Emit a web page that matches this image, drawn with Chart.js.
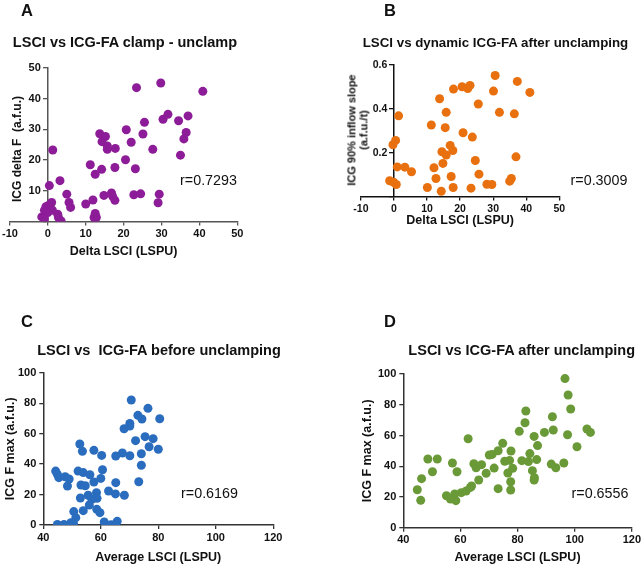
<!DOCTYPE html>
<html>
<head>
<meta charset="utf-8">
<script src="https://cdn.jsdelivr.net/npm/chart.js@4.4.1/dist/chart.umd.min.js"></script>
<style>
  html, body { margin: 0; padding: 0; background: #fff; }
  #page { position: relative; width: 643px; height: 566px; overflow: hidden; font-family: "Liberation Sans", Arial, sans-serif; color: #111; }
  #page canvas { position: absolute; left: 0; top: 0; }
  .txt { position: absolute; transform: translate(-50%, -50%); white-space: pre; line-height: 1; }
  .letter { font-weight: bold; font-size: 16.5px; }
  .ttl { font-weight: bold; font-size: 14.5px; }
  .rval { font-size: 14.3px; }
  .ytl { position: absolute; transform: translate(-50%, -50%) rotate(-90deg); white-space: pre; font-weight: bold; text-align: center; }
</style>
</head>
<body>
<div id="page">
  <canvas id="chartA" width="643" height="566"></canvas>
  <canvas id="chartB" width="643" height="566"></canvas>
  <canvas id="chartC" width="643" height="566"></canvas>
  <canvas id="chartD" width="643" height="566"></canvas>

  <div class="txt letter" style="left:27px;top:10px">A</div>
  <div class="txt letter" style="left:390px;top:10px">B</div>
  <div class="txt letter" style="left:27px;top:321px">C</div>
  <div class="txt letter" style="left:390px;top:321px">D</div>

  <div class="txt ttl" style="left:125px;top:42px">LSCI vs ICG-FA clamp - unclamp</div>
  <div class="txt ttl" style="left:495.5px;top:43px;font-size:13.3px">LSCI vs dynamic ICG-FA after unclamping</div>
  <div class="txt ttl" style="left:159px;top:350px">LSCI vs  ICG-FA before unclamping</div>
  <div class="txt ttl" style="left:521.7px;top:350px">LSCI vs ICG-FA after unclamping</div>

  <div class="txt rval" style="left:208.5px;top:180px">r=0.7293</div>
  <div class="txt rval" style="left:599px;top:180px">r=0.3009</div>
  <div class="txt rval" style="left:209.5px;top:493px">r=0.6169</div>
  <div class="txt rval" style="left:600px;top:493px">r=0.6556</div>

  <div class="ytl" style="left:17px;top:149px;font-size:12px">ICG delta F  (a.f.u.)</div>
  <div class="ytl" style="left:357.5px;top:130px;font-size:11px;line-height:11.6px">ICG 90% inflow slope
(a.f.u./t)</div>
</div>

<script>
// A: LSCI vs ICG-FA clamp - unclamp
const deltaLsciA = [23.4, 29.8, 40.9, 31.7, 30.4, 34.5, 37.0, 25.5, 20.7, 13.7, 15.2, 14.3, 15.7, 15.7, 17.8, 22.0, 25.1, 36.5, 35.9, 27.7, 35.0, 1.3, 11.2, 14.2, 12.5, 17.7, 20.5, 23.1, 0.4, 3.2, 5.0, 5.6, 6.0, 10.0, 11.9, 14.8, 16.8, 17.1, 17.7, 22.7, 24.5, 29.4, 29.1, 12.5, 12.8, 12.2, 1.0, 0.0, -0.5, 0.6, 1.2, -0.9, 0.0, -1.6, -0.9, 2.6, 2.8, 3.5];
const icgDeltaF = [43.6, 45.1, 42.4, 34.9, 33.3, 32.8, 34.4, 32.3, 29.9, 28.6, 27.7, 26.0, 24.6, 23.5, 23.8, 25.8, 28.5, 29.0, 26.9, 23.5, 21.6, 23.3, 18.5, 17.0, 15.4, 17.6, 20.1, 17.2, 11.7, 13.3, 8.9, 6.2, 4.6, 5.7, 7.0, 8.5, 9.3, 8.2, 6.9, 8.7, 9.0, 8.9, 6.1, 2.6, 1.3, 1.3, 6.2, 5.1, 4.8, 4.3, 3.7, 3.7, 2.9, 1.5, 0.8, 2.4, 1.3, 0.2];

// B: LSCI vs dynamic ICG-FA after unclamping
const deltaLsciB = [30.6, 37.3, 41.1, 30.1, 20.6, 22.3, 23.0, 18.0, 13.8, 25.5, 31.9, 36.4, 15.8, 1.4, 11.3, 15.5, 20.9, 23.7, 0.5, -0.3, 17.0, 14.5, 17.8, 15.8, 36.9, 24.6, 14.8, 1.0, 3.3, 12.1, 5.3, 25.7, 17.3, 12.7, 35.5, 35.0, -1.3, -0.1, 0.7, 28.1, 29.6, 10.1, 17.9, 23.3, 14.3];
const inflowSlope = [0.552, 0.525, 0.475, 0.481, 0.501, 0.493, 0.507, 0.490, 0.446, 0.422, 0.384, 0.377, 0.384, 0.368, 0.326, 0.314, 0.291, 0.271, 0.256, 0.236, 0.233, 0.204, 0.210, 0.189, 0.181, 0.164, 0.151, 0.135, 0.134, 0.131, 0.113, 0.102, 0.091, 0.082, 0.082, 0.070, 0.072, 0.065, 0.055, 0.056, 0.055, 0.041, 0.041, 0.038, 0.024];

// C: LSCI vs ICG-FA before unclamping
const avgLsciC = [70.6, 76.4, 72.9, 74.3, 80.5, 70.1, 70.1, 68.1, 72.1, 75.4, 78.2, 76.8, 80.0, 74.1, 70.1, 67.5, 65.2, 74.1, 73.2, 52.7, 53.6, 57.6, 60.3, 60.6, 60.0, 57.6, 52.1, 53.9, 56.2, 53.1, 54.6, 44.3, 44.9, 45.4, 47.6, 49.0, 48.4, 52.9, 55.6, 56.9, 58.5, 58.7, 56.0, 53.9, 58.6, 59.7, 62.7, 65.2, 65.1, 68.2, 50.6, 51.3, 49.6, 50.5, 44.9, 47.2, 61.2, 63.6, 65.7];
const icgFmaxC = [82.1, 76.6, 72.0, 69.6, 69.8, 66.7, 65.0, 63.2, 55.4, 58.0, 56.7, 51.4, 49.7, 46.8, 45.5, 47.3, 45.3, 39.2, 28.4, 53.2, 48.4, 49.0, 45.7, 36.3, 30.6, 28.2, 35.4, 34.4, 33.0, 26.3, 25.8, 35.4, 33.3, 31.1, 31.7, 30.2, 25.6, 17.7, 19.5, 16.8, 21.2, 17.5, 13.1, 9.4, 10.3, 8.1, 22.3, 27.8, 20.4, 19.5, 8.8, 4.8, 1.5, 1.1, 0.4, 0.4, 2.0, 0.2, 2.4];

// D: LSCI vs ICG-FA after unclamping
const avgLsciD = [96.6, 97.7, 98.6, 82.9, 82.6, 92.2, 92.5, 104.3, 105.5, 97.5, 100.8, 80.6, 89.4, 85.8, 87.0, 62.7, 74.8, 73.2, 77.7, 71.1, 70.1, 84.3, 75.5, 77.2, 81.5, 83.8, 86.7, 91.8, 96.2, 93.4, 76.6, 78.3, 71.8, 69.0, 67.4, 64.7, 65.5, 85.2, 85.9, 85.8, 77.6, 77.6, 73.2, 66.4, 63.9, 63.5, 62.0, 60.3, 58.0, 55.1, 56.5, 58.4, 57.2, 58.8, 50.2, 48.6, 51.9, 46.4, 44.9, 46.1];
const icgFmaxD = [97.0, 86.3, 77.2, 75.9, 68.3, 72.2, 63.6, 64.2, 62.0, 60.5, 52.7, 62.7, 62.0, 59.4, 53.4, 57.9, 54.9, 50.1, 49.9, 47.7, 47.3, 48.2, 43.2, 43.8, 43.6, 43.0, 44.3, 41.4, 42.1, 39.0, 35.6, 38.6, 38.8, 35.4, 41.0, 41.6, 39.0, 37.1, 32.5, 31.0, 29.9, 24.5, 25.4, 31.0, 27.1, 26.2, 23.9, 22.8, 21.9, 20.8, 18.7, 17.6, 42.1, 36.4, 36.4, 44.7, 44.7, 31.9, 24.7, 17.8];

const fontFamily = '"Liberation Sans", Arial, sans-serif';

function toPoints(xs, ys) {
    return xs.map((x, i) => ({ x: x, y: ys[i] }));
}

// options chung cho 4 bieu do
function makeChart(id, cfg) {
    const axisColor = cfg.axisColor;
    const tickFont = { family: fontFamily, size: cfg.tickSize || 11, weight: 'bold' };
    const yScale = {
        min: cfg.yMin, max: cfg.yMax,
        ticks: {
            stepSize: cfg.yStep, color: '#111', font: tickFont, padding: 3,
            callback: cfg.yLabel
        },
        grid: { display: true, drawOnChartArea: false, drawTicks: true, tickLength: 4, color: axisColor, lineWidth: 1.3 },
        border: { display: true, color: axisColor, width: 1.5 },
        afterFit: cfg.yWidth ? (s) => { s.width = cfg.yWidth; } : undefined
    };
    if (cfg.yAtZero) {
        yScale.position = { x: 0 };
    } else {
        yScale.position = 'left';
        yScale.title = {
            display: true, text: cfg.yTitle, color: '#111',
            font: { family: fontFamily, size: 12.5, weight: 'bold' },
            padding: { top: 3, bottom: 0 }
        };
    }
    return new Chart(document.getElementById(id).getContext('2d'), {
        type: 'scatter',
        data: {
            datasets: [{
                data: toPoints(cfg.xs, cfg.ys),
                backgroundColor: cfg.color,
                borderWidth: 0,
                pointRadius: 4.5,
                pointHoverRadius: 4.5
            }]
        },
        options: {
            responsive: false,
            animation: false,
            devicePixelRatio: 1,
            layout: { padding: cfg.padding },
            plugins: { legend: { display: false }, tooltip: { enabled: false }, title: { display: false } },
            scales: {
                x: {
                    type: 'linear', position: 'bottom',
                    min: cfg.xMin, max: cfg.xMax,
                    ticks: { stepSize: cfg.xStep, color: '#111', font: tickFont, padding: 2, maxRotation: 0 },
                    grid: { display: true, drawOnChartArea: false, drawTicks: true, tickLength: 4, color: axisColor, lineWidth: 1.3 },
                    border: { display: true, color: axisColor, width: 1.5 },
                    title: {
                        display: true, text: cfg.xTitle, color: '#111',
                        font: { family: fontFamily, size: 12.5, weight: 'bold' },
                        padding: { top: 0, bottom: cfg.xTitlePad }
                    },
                    afterFit: (s) => { s.height = cfg.xHeight; }
                },
                y: yScale
            }
        }
    });
}

// nhan truc y o x=0: bo so 0, them khoang trong ben phai
const padLabel = (v) => v === 0 ? '' : v + '\u2007\u200A';
const padLabelB = (v) => v === 0 ? '' : v.toFixed(1) + '\u2007\u200A';

makeChart('chartA', {
    xs: deltaLsciA, ys: icgDeltaF, color: '#8d1c98', axisColor: '#555',
    xMin: -10, xMax: 50, xStep: 10, yMin: 0, yMax: 50, yStep: 10,
    yAtZero: true, yLabel: padLabel,
    xTitle: 'Delta LSCI (LSPU)', xTitlePad: 2.5, xHeight: 40.5,
    padding: { left: 7.7, right: 405.7, top: 68, bottom: 304 }
});

makeChart('chartB', {
    xs: deltaLsciB, ys: inflowSlope, color: '#e8700e', axisColor: '#111',
    xMin: -10, xMax: 50, xStep: 10, yMin: 0, yMax: 0.6, yStep: 0.2,
    yAtZero: true, yLabel: padLabelB, tickSize: 10.5,
    xTitle: 'Delta LSCI (LSPU)', xTitlePad: 2.8, xHeight: 34.5,
    padding: { left: 360.9, right: 83.7, top: 65, bottom: 335 }
});

makeChart('chartC', {
    xs: avgLsciC, ys: icgFmaxC, color: '#2a6cbd', axisColor: '#333',
    xMin: 40, xMax: 120, xStep: 20, yMin: 0, yMax: 100, yStep: 20,
    yTitle: 'ICG F max (a.f.u.)', yWidth: 43.3,
    xTitle: 'Average LSCI (LSPU)', xTitlePad: 1.2, xHeight: 41,
    padding: { left: 0, right: 369.7, top: 372.7, bottom: 0 }
});

makeChart('chartD', {
    xs: avgLsciD, ys: icgFmaxD, color: '#6a9a38', axisColor: '#333',
    xMin: 40, xMax: 120, xStep: 20, yMin: 0, yMax: 100, yStep: 20,
    yTitle: 'ICG F max (a.f.u.)', yWidth: 46.3,
    xTitle: 'Average LSCI (LSPU)', xTitlePad: 1.2, xHeight: 38.3,
    padding: { left: 357, right: 9.7, top: 374, bottom: 0 }
});
</script>
</body>
</html>
